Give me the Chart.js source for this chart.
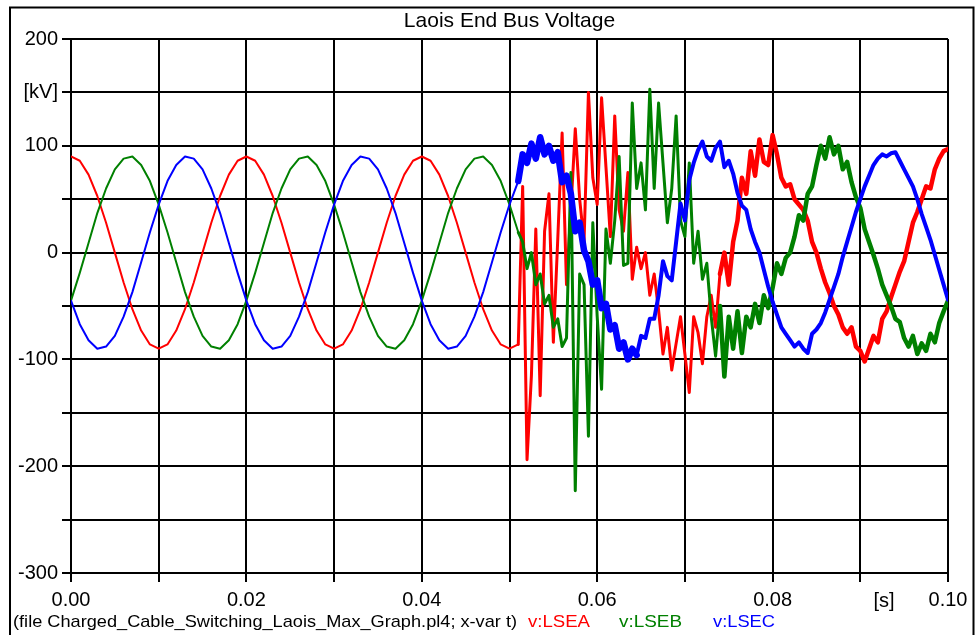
<!DOCTYPE html>
<html>
<head>
<meta charset="utf-8">
<title>Laois End Bus Voltage</title>
<script src="https://cdn.jsdelivr.net/npm/chart.js@4.4.0/dist/chart.umd.min.js"></script>
<style>
  html, body { margin: 0; padding: 0; background: #ffffff; }
  canvas { display: block; }
</style>
</head>
<body>
<canvas id="chart" width="975" height="635"></canvas>
<script>
// Sample instants: 1 ms steps up to the switching instant, 0.5 ms steps after it
const preTimes = Array.from({ length: 52 }, (_, i) => i * 0.001);
const postTimes = Array.from({ length: 98 }, (_, i) => 0.0515 + i * 0.0005);

// Phase voltages [kV] before switching (0 .. 51 ms)
const lseaPre = [
  90, 86, 73, 53, 28, 0, -28, -53, -73, -86, -90, -86, -73, -53, -28, 0, 28, 53, 73, 86,
  90, 86, 73, 53, 28, 0, -28, -53, -73, -86, -90, -86, -73, -53, -28, 0, 28, 53, 73, 86,
  90, 86, 73, 53, 28, 0, -28, -53, -73, -86, -90, -86
];
const lsebPre = [
  -45, -19, 9, 37, 60, 78, 88, 90, 82, 67, 45, 19, -9, -37, -60, -78, -88, -90, -82, -67,
  -45, -19, 9, 37, 60, 78, 88, 90, 82, 67, 45, 19, -9, -37, -60, -78, -88, -90, -82, -67,
  -45, -19, 9, 37, 60, 78, 88, 90, 82, 67, 45, 19
];
const lsecPre = [
  -45, -67, -82, -90, -88, -78, -60, -37, -9, 19, 45, 67, 82, 90, 88, 78, 60, 37, 9, -19,
  -45, -67, -82, -90, -88, -78, -60, -37, -9, 19, 45, 67, 82, 90, 88, 78, 60, 37, 9, -19,
  -45, -67, -82, -90, -88, -78, -60, -37, -9, 19, 45, 67
];

// Phase voltages [kV] after switching (51.5 .. 100 ms)
const lseaPost = [
  62, -194, -115, 22, -134, 20, 55, -84, 12, 112,
  -30, 40, 116, 50, 10, 150, 70, 45, 145, 80,
  15, 128, 40, 20, 75, -25, 5, -15, 0, -40,
  -20, -54, -95, -70, -110, -85, -60, -95, -131, -60,
  -75, -104, -60, -40, -70, -20, 0, -30, 10, 30,
  70, 55, 95, 72, 106, 85, 82, 110, 92, 70,
  62, 64, 50, 45, 40, 30, 10, 0, -15, -28,
  -38, -50, -58, -70, -76, -70, -88, -92, -102, -90,
  -78, -84, -62, -55, -42, -30, -18, -8, 10, 28,
  38, 50, 62, 60, 78, 88, 95, 97
];
const lsebPost = [
  10, -15, 0, -30, -20, -48, -40, -70, -62, -88,
  -80, 75, -223, -20, -30, -172, 28, -60, -128, 22,
  -10, 30, 90, -12, -10, 140, 60, 84, 40, 153,
  60, 140, 84, 28, 60, 128, 30, 15, 84, -10,
  20, -25, -10, -60, -97, -50, -116, -60, -90, -55,
  -94, -60, -70, -48, -66, -40, -52, -33, -10, -20,
  -5, 0, 15, 35, 30, 55, 62, 82, 100, 88,
  108, 92, 100, 78, 85, 66, 52, 42, 22, 10,
  -2, -15, -30, -40, -50, -62, -65, -80, -88, -78,
  -95, -85, -92, -76, -84, -66, -55, -45
];
const lsecPost = [
  92, 84, 102, 88, 108, 92, 100, 86, 94, 66,
  72, 55, 20, 28, 2, -8, -30, -26, -52, -48,
  -72, -68, -90, -84, -100, -90, -96, -78, -80, -62,
  -62, -40, -8, -22, -26, 10, 46, 30, 68, 84,
  96, 104, 90, 86, 98, 104, 80, 86, 74, 56,
  44, 40, 22, 10, 0, -16, -32, -46, -58, -70,
  -76, -82, -88, -84, -90, -94, -76, -72, -66, -56,
  -44, -32, -20, -4, 10, 24, 38, 50, 62, 72,
  82, 88, 92, 90, 93, 94, 86, 78, 70, 62,
  50, 36, 24, 12, -2, -16, -30, -44
];

// Axis tick labels
const xTickLabels = ['0.00', '', '0.02', '', '0.04', '', '0.06', '', '0.08', '', '0.10'];
const yTickLabels = { '200': '200', '150': '[kV]', '100': '100', '0': '0', '-100': '-100', '-200': '-200', '-300': '-300' };

const RED = '#ff0000', GREEN = '#008000', BLUE = '#0000ff';
const FONT = "'Liberation Sans', Arial, sans-serif";

function points(times, values) {
  return times.map((t, i) => ({ x: t, y: values[i] }));
}
function afterSwitch(preT, preV, postT, postV) {
  const last = preT.length - 1;
  return [{ x: preT[last], y: preV[last] }].concat(points(postT, postV));
}

// Trace width: the post-switching traces carry high-frequency ripple, drawn as a wider band
function widthBy(early, late, splitAt) {
  return ctx => (ctx.p0.parsed.x < splitAt ? early : late);
}

function line(label, data, color, width, order, segmentWidth) {
  const ds = {
    label, data, order,
    borderColor: color, borderWidth: width,
    pointRadius: 0, tension: 0, fill: false,
    borderJoinStyle: 'round', borderCapStyle: 'round'
  };
  if (segmentWidth) ds.segment = { borderWidth: segmentWidth };
  return ds;
}

// Draws text squeezed or stretched to a given width
function fitText(ctx, text, x, y, width) {
  const w = ctx.measureText(text).width;
  ctx.save();
  ctx.translate(x, y);
  ctx.scale(width / w, 1);
  ctx.fillText(text, 0, 0);
  ctx.restore();
}

const frame = {
  id: 'frame',
  beforeDraw(chart) {
    const ctx = chart.ctx;
    ctx.save();
    ctx.fillStyle = '#ffffff';
    ctx.fillRect(0, 0, chart.width, chart.height);
    ctx.restore();
  },
  afterDraw(chart) {
    const ctx = chart.ctx;
    const area = chart.chartArea;
    ctx.save();
    // outer frame
    ctx.strokeStyle = '#000';
    ctx.lineWidth = 2;
    ctx.strokeRect(10, 7.5, 963.5, 700);
    // title
    ctx.fillStyle = '#000';
    ctx.font = '21px ' + FONT;
    ctx.textAlign = 'center';
    ctx.textBaseline = 'alphabetic';
    ctx.fillText('Laois End Bus Voltage', (area.left + area.right) / 2, 27);
    // time unit
    ctx.font = '20px ' + FONT;
    ctx.fillText('[s]', 884, 607);
    // footer
    ctx.font = '17px ' + FONT;
    ctx.textAlign = 'left';
    fitText(ctx, '(file Charged_Cable_Switching_Laois_Max_Graph.pl4; x-var t)', 13, 627, 504);
    ctx.fillStyle = RED;
    fitText(ctx, 'v:LSEA', 528, 627, 62);
    ctx.fillStyle = GREEN;
    fitText(ctx, 'v:LSEB', 619, 627, 63);
    ctx.fillStyle = BLUE;
    fitText(ctx, 'v:LSEC', 713, 627, 62);
    ctx.restore();
  }
};

new Chart(document.getElementById('chart'), {
  type: 'line',
  data: {
    datasets: [
      line('v:LSEC', points(preTimes, lsecPre), BLUE, 2, 0),
      line('v:LSEB', points(preTimes, lsebPre), GREEN, 2, 1),
      line('v:LSEA', points(preTimes, lseaPre), RED, 2, 2),
      line('v:LSEC', afterSwitch(preTimes, lsecPre, postTimes, lsecPost), BLUE, 4, 0, widthBy(6.5, 4, 0.0645)),
      line('v:LSEB', afterSwitch(preTimes, lsebPre, postTimes, lsebPost), GREEN, 3, 1, widthBy(3, 4.5, 0.074)),
      line('v:LSEA', afterSwitch(preTimes, lseaPre, postTimes, lseaPost), RED, 3, 2, widthBy(3, 4.5, 0.074))
    ]
  },
  options: {
    responsive: false,
    animation: false,
    devicePixelRatio: 1,
    events: [],
    layout: { padding: { left: 10, top: 39, right: 27, bottom: 0 } },
    plugins: {
      legend: { display: false },
      tooltip: { enabled: false },
      title: { display: false }
    },
    scales: {
      x: {
        type: 'linear',
        min: 0, max: 0.1,
        ticks: {
          stepSize: 0.01, autoSkip: false, maxRotation: 0, minRotation: 0,
          padding: 6, color: '#000',
          font: { family: FONT, size: 20 },
          callback: (v, i) => xTickLabels[i] ?? ''
        },
        grid: { color: '#000', lineWidth: 2, tickLength: 9, drawTicks: true },
        border: { display: true, color: '#000', width: 2 },
        afterFit: s => { s.height = 62; }
      },
      y: {
        type: 'linear',
        min: -300, max: 200,
        ticks: {
          stepSize: 50, autoSkip: false, padding: 4, color: '#000',
          font: { family: FONT, size: 20 },
          callback: v => yTickLabels[String(Math.round(v))] ?? ''
        },
        grid: { color: '#000', lineWidth: 2, tickLength: 9, drawTicks: true },
        border: { display: true, color: '#000', width: 2 },
        afterFit: s => { s.width = 61; }
      }
    }
  },
  plugins: [frame]
});
</script>
</body>
</html>
